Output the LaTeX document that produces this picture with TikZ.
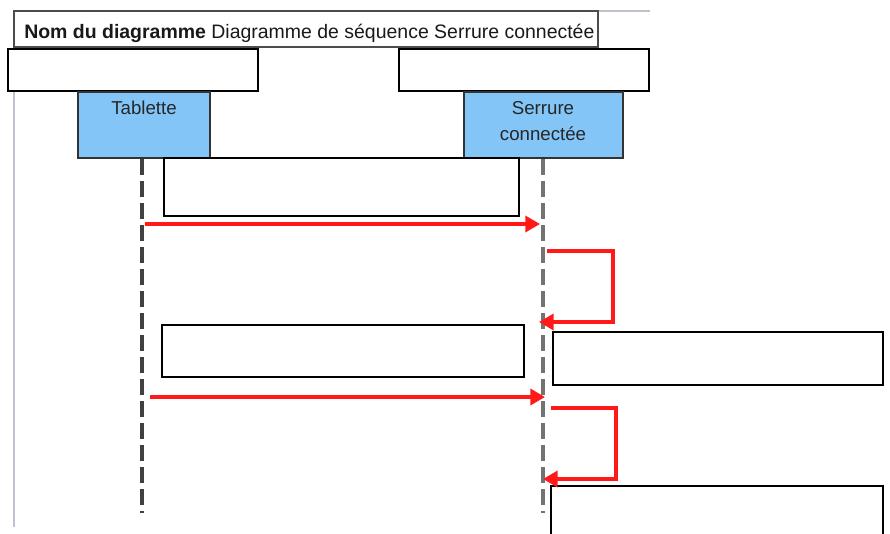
\documentclass[tikz,border=0pt]{standalone}
\usepackage{fontspec}
\setmainfont{Liberation Sans}
\usetikzlibrary{arrows.meta,fit}
\definecolor{lblue}{RGB}{132,197,248}
\definecolor{framecol}{RGB}{192,192,206}
\definecolor{msgred}{RGB}{255,25,25}
\begin{document}
\begin{tikzpicture}[x=0.75pt,y=-0.75pt,
  box/.style={draw=black, line width=1pt, fill=white, inner sep=0pt},
  lifebox/.style={draw=black!80, line width=2pt, fill=lblue, inner sep=0pt},
  lifeA/.style={dash pattern=on 12pt off 4.5pt, line width=2.6pt, draw=black!75},
  lifeB/.style={dash pattern=on 12pt off 4.5pt, line width=2.4pt, draw=black!55},
  msg/.style={draw=msgred, line width=2.6pt, -{Triangle[length=11pt,width=12pt]}},
  lbl/.style={font=\fontsize{14}{16}\selectfont, inner sep=0pt}]
\useasboundingbox (0,0) rectangle (890,533);
% frame
\coordinate (frTR) at (650,11);
\coordinate (frTL) at (14,11);
\coordinate (frBL) at (14,527);
\draw[framecol, line width=2pt] (frTR) -- (frTL) -- (frBL);
% title
\node[fit={(14,11) (598,47)}, draw=black!70, line width=2pt, fill=white, inner sep=0pt] (title) {};
\node[lbl, font=\fontsize{14.6}{16}\selectfont, anchor=base west, text=black!90] (titletext) at (24,38) {\textbf{Nom du diagramme} Diagramme de séquence Serrure connectée};
% empty boxes at top
\node[box, fit={(8,49) (258,91)}] (nA) {};
\node[box, fit={(399,49) (649,91)}] (nB) {};
% lifeline heads
\node[lifebox, fit={(78,92) (210,158)}] (tab) {};
\node[lifebox, fit={(464,92) (623,158)}] (ser) {};
\node[lbl, anchor=base, text=black!85] (tabtxt) at (144,114) {Tablette};
\node[lbl, anchor=base, text=black!85] (sertxt1) at (543,114) {Serrure};
\node[lbl, anchor=base, text=black!85] (sertxt2) at (543,140) {connectée};
% lifelines
\coordinate (tabtop) at (142,159);
\coordinate (tabend) at (142,513);
\coordinate (sertop) at (543,159);
\coordinate (serend) at (543,513);
\draw[lifeA] (tabtop) -- (tabend);
\draw[lifeB] (sertop) -- (serend);
% empty boxes
\node[box, fit={(164,158) (519,216)}] (nC) {};
\node[box, fit={(162,325) (524,377)}] (nD) {};
\node[box, fit={(553,332) (883,385)}] (nE) {};
\node[box, fit={(551,486) (883,545)}] (nF) {};
% messages
\coordinate (m1s) at (145,224);
\coordinate (m1e) at (540,224);
\draw[msg] (m1s) -- (m1e);
\coordinate (s1a) at (547,251);
\coordinate (s1b) at (613,251);
\coordinate (s1c) at (613,322);
\coordinate (s1d) at (539,322);
\draw[msg] (s1a) -- (s1b) -- (s1c) -- (s1d);
\coordinate (m2s) at (150,397);
\coordinate (m2e) at (545,397);
\draw[msg] (m2s) -- (m2e);
\coordinate (s2a) at (551,408);
\coordinate (s2b) at (616,408);
\coordinate (s2c) at (616,479);
\coordinate (s2d) at (543,479);
\draw[msg] (s2a) -- (s2b) -- (s2c) -- (s2d);
\end{tikzpicture}
\end{document}
